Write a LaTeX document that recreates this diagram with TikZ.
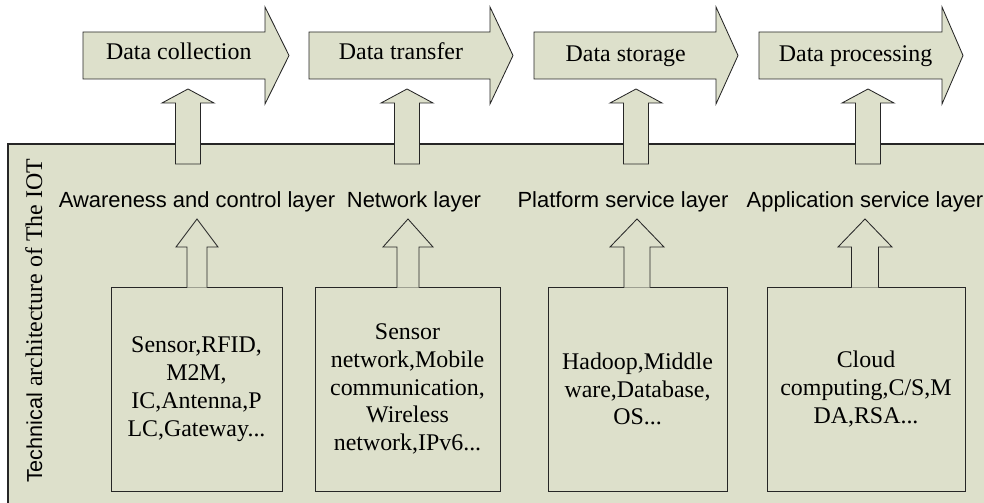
\documentclass[tikz,border=0pt]{standalone}
\usepackage{fontspec}
\setmainfont{Liberation Serif}
\setsansfont{Liberation Sans}
\definecolor{iotgreen}{RGB}{221,224,203}
\tikzset{
    % pale green shapes with a thin dark edge
    pale/.style={
           fill=iotgreen,
           draw=black!85,
           line width=0.6pt},
    % texts
    serif/.style={font=\fontsize{17}{19.8}\selectfont},
    layer/.style={font=\sffamily\fontsize{15.6}{18}\selectfont, anchor=base},
    techbox/.style={
           pale,
           serif,
           align=center,
           inner sep=0pt,
           minimum height=5.1cm}
}

\begin{document}
\begin{tikzpicture}[x=0.025cm, y=-0.025cm]
\clip (0,0) rectangle (984,503);

% the big panel
\filldraw[pale, line width=0.8pt] (8,144) rectangle (995,515);

% steps of the data flow
\foreach \l/\b/\t in {83/265/289, 309/490/513, 534/716/738, 759/942/963}
    \filldraw[pale] (\l,32) -- (\b,32) -- (\b,7) -- (\t,55.5) -- (\b,104) -- (\b,79) -- (\l,79) -- cycle;
\node[serif, anchor=base] (collect) at (178.8,60) {Data collection};
\node[serif, anchor=base] (transfer) at (401,60) {Data transfer};
\node[serif, anchor=base] (storage) at (625.7,62) {Data storage};
\node[serif, anchor=base] (processing) at (855.6,62) {Data processing};

% arrows from the layers up to the steps
\foreach \x in {188, 407, 636, 868}
    \filldraw[pale] (\x-12.5,164) -- (\x-12.5,103) -- (\x-26,103) -- (\x,89) -- (\x+26,103) -- (\x+12.5,103) -- (\x+12.5,164) -- cycle;

% layers
\node[layer] (aware) at (197,208) {Awareness and control layer};
\node[layer] (network) at (414,208) {Network layer};
\node[layer] (platform) at (623,208) {Platform service layer};
\node[layer] (application) at (865,208) {Application service layer};

% technologies of each layer
\node[techbox, minimum width=4.275cm] (sensing) at (196.5,389) {Sensor,RFID,\\M2M,\\IC,Antenna,P\\LC,Gateway...};
\node[techbox, minimum width=4.625cm] (networking) at (407.5,389) {Sensor\\network,Mobile\\communication,\\Wireless\\network,IPv6...};
\node[techbox, minimum width=4.475cm] (platformbox) at (637.5,389) {Hadoop,Middle\\ware,Database,\\OS...};
\node[techbox, minimum width=4.95cm] (appbox) at (866,389) {Cloud\\computing,C/S,M\\DA,RSA...};

% arrows from the boxes up to the layers
\foreach \x/\h/\s in {197/21/10, 408/25/11, 637/27/13, 865/27/13.5}
    \filldraw[pale] (\x-\s,287.6) -- (\x-\s,247) -- (\x-\h,247) -- (\x,219) -- (\x+\h,247) -- (\x+\s,247) -- (\x+\s,287.6);

\node[rotate=90, anchor=base, serif] (archlabel) at (42,321) {{\sffamily\fontsize{15.4}{18}\selectfont Technical} architecture of The IOT};

% \node[serif] at (492,-5) {technology mapping};
\end{tikzpicture}
\end{document}
